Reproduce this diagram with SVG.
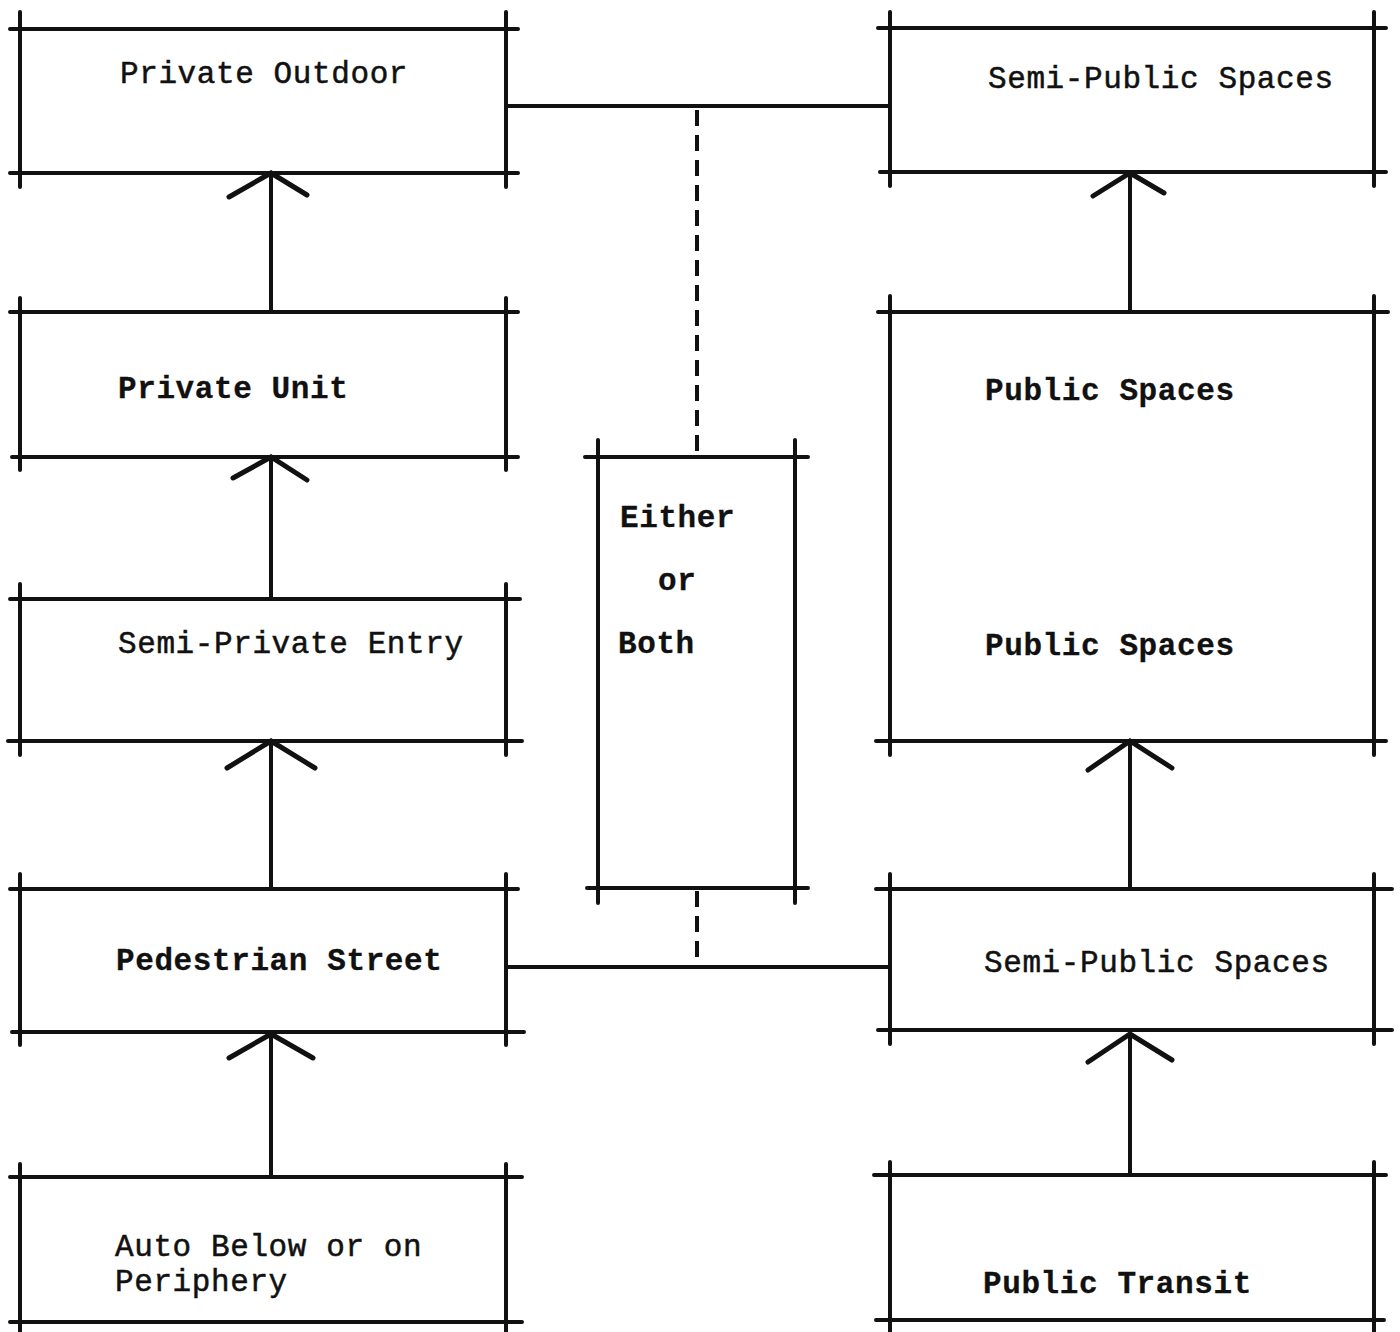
<svg xmlns="http://www.w3.org/2000/svg" width="1400" height="1332" viewBox="0 0 1400 1332">
<style>
.b{stroke:#111;stroke-width:4;stroke-linecap:round;fill:none}
.c{stroke:#111;stroke-width:4;stroke-linecap:round;fill:none}
.d{stroke:#111;stroke-width:4;fill:none;stroke-dasharray:16 9}
.h{stroke:#111;stroke-width:5;stroke-linecap:round;fill:none}
text{font-family:"Liberation Mono","Courier New",monospace;font-size:31px;fill:#111;letter-spacing:0.6px;stroke:#111;stroke-width:0.5}
.k{font-weight:bold;stroke-width:0.3}
</style>
<rect width="1400" height="1332" fill="#fff"/>
<g id="connectors">
<line class="c" x1="506" y1="106" x2="890" y2="106"/>
<line class="d" x1="697" y1="110" x2="697" y2="457"/>
<line class="c" x1="506" y1="967" x2="890" y2="967"/>
<line class="d" x1="697" y1="891" x2="697" y2="965"/>
<line class="c" x1="271" y1="173" x2="271" y2="312"/>
<polyline class="h" points="229,197 271,173 307,195"/>
<line class="c" x1="271" y1="457" x2="271" y2="599"/>
<polyline class="h" points="233,478 271,457 307,480"/>
<line class="c" x1="271" y1="741" x2="271" y2="889"/>
<polyline class="h" points="227,768 271,741 315,768"/>
<line class="c" x1="271" y1="1034" x2="271" y2="1177"/>
<polyline class="h" points="229,1058 271,1034 313,1058"/>
<line class="c" x1="1130" y1="173" x2="1130" y2="312"/>
<polyline class="h" points="1093,196 1130,173 1164,193"/>
<line class="c" x1="1130" y1="741" x2="1130" y2="889"/>
<polyline class="h" points="1088,770 1130,741 1172,768"/>
<line class="c" x1="1130" y1="1034" x2="1130" y2="1175"/>
<polyline class="h" points="1088,1062 1130,1034 1172,1060"/>
</g>
<g id="private-outdoor">
<path class="b" d="M10,29H518M10,173H518M20,12V187M506,12V187"/>
<text x="120" y="83">Private Outdoor</text>
</g>
<g id="private-unit">
<path class="b" d="M10,312H518M12,457H518M20,298V470M506,298V470"/>
<text class="k" x="118" y="398">Private Unit</text>
</g>
<g id="semi-private-entry">
<path class="b" d="M10,599H520M8,741H522M20,584V755M506,584V755"/>
<text x="118" y="653">Semi-Private Entry</text>
</g>
<g id="pedestrian-street">
<path class="b" d="M10,889H518M12,1032H524M20,874V1045M506,874V1045"/>
<text class="k" x="116" y="970">Pedestrian Street</text>
</g>
<g id="auto-below">
<path class="b" d="M10,1177H522M10,1322H522M20,1164V1332M506,1164V1332"/>
<text x="115" y="1256">Auto Below or on</text>
<text x="115" y="1291">Periphery</text>
</g>
<g id="either-or-both">
<path class="b" d="M585,457H808M587,888H808M598,440V903M795,440V903"/>
<text class="k" x="620" y="527">Either</text>
<text class="k" x="658" y="590">or</text>
<text class="k" x="618" y="653">Both</text>
</g>
<g id="semi-public-top">
<path class="b" d="M878,28H1386M880,172H1386M890,12V186M1374,12V186"/>
<text x="988" y="88">Semi-Public Spaces</text>
</g>
<g id="public-spaces">
<path class="b" d="M878,312H1388M876,741H1386M890,296V755M1374,296V755"/>
<text class="k" x="985" y="400">Public Spaces</text>
<text class="k" x="985" y="655">Public Spaces</text>
</g>
<g id="semi-public-bottom">
<path class="b" d="M876,889H1392M878,1030H1392M890,874V1044M1374,874V1044"/>
<text x="984" y="972">Semi-Public Spaces</text>
</g>
<g id="public-transit">
<path class="b" d="M874,1175H1386M876,1320H1384M890,1162V1332M1374,1162V1332"/>
<text class="k" x="983" y="1293">Public Transit</text>
</g>
</svg>
